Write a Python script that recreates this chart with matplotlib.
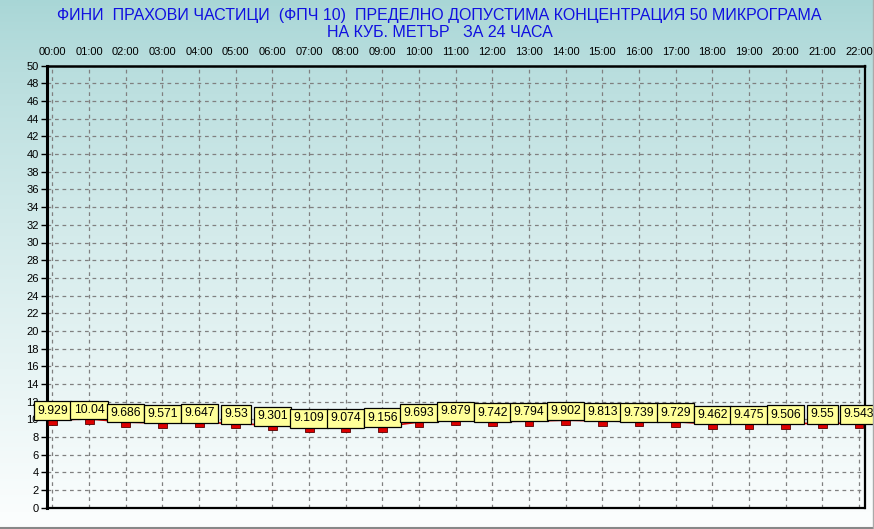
import numpy as np
import matplotlib
matplotlib.use("Agg")
import matplotlib.pyplot as plt
from matplotlib.lines import Line2D

hours = ["00:00", "01:00", "02:00", "03:00", "04:00", "05:00", "06:00", "07:00",
         "08:00", "09:00", "10:00", "11:00", "12:00", "13:00", "14:00", "15:00",
         "16:00", "17:00", "18:00", "19:00", "20:00", "21:00", "22:00"]
values = [9.929, 10.04, 9.686, 9.571, 9.647, 9.53, 9.301, 9.109, 9.074, 9.156,
          9.693, 9.879, 9.742, 9.794, 9.902, 9.813, 9.739, 9.729, 9.462, 9.475,
          9.506, 9.55, 9.543]
labels = ["9.929", "10.04", "9.686", "9.571", "9.647", "9.53", "9.301", "9.109",
          "9.074", "9.156", "9.693", "9.879", "9.742", "9.794", "9.902", "9.813",
          "9.739", "9.729", "9.462", "9.475", "9.506", "9.55", "9.543"]
title = "ФИНИ  ПРАХОВИ ЧАСТИЦИ  (ФПЧ 10)  ПРЕДЕЛНО ДОПУСТИМА КОНЦЕНТРАЦИЯ 50 МИКРОГРАМА\nНА КУБ. МЕТЪР   ЗА 24 ЧАСА"

plt.rcParams['font.family'] = ['Liberation Sans', 'DejaVu Sans']

fig = plt.figure(figsize=(8.74, 5.29), dpi=100)

# background gradient
bg = fig.add_axes([0, 0, 1, 1], zorder=-10)
top = np.array([168, 214, 214]) / 255.0
bot = np.array([252, 254, 254]) / 255.0
t = np.linspace(0, 1, 256)[:, None] ** 0.8
grad = (top[None, :] * (1 - t) + bot[None, :] * t)
grad = np.repeat(grad[:, None, :], 2, axis=1)
bg.imshow(grad, aspect='auto', extent=[0, 1, 0, 1], origin='upper')
bg.set_xlim(0, 1); bg.set_ylim(0, 1)
bg.axis('off')
# gray frame lines at bottom/right
fig.add_artist(Line2D([0, 1], [1.5/529, 1.5/529], color='#888888', lw=1.5, transform=fig.transFigure))
fig.add_artist(Line2D([872.5/874, 872.5/874], [0, 1], color='#aaaaaa', lw=1.0, transform=fig.transFigure))

ax = fig.add_axes([47/874, 1 - 507.7/529, (864.5 - 47)/874, (507.7 - 65.7)/529])
ax.set_facecolor('none')
x = np.arange(len(values))
ax.set_xlim(-0.15, 22.15)
ax.set_ylim(0, 50)

ax.set_yticks(np.arange(0, 51, 2))
ax.set_xticks(x)
ax.set_xticklabels(hours)
ax.xaxis.tick_top()
ax.tick_params(axis='x', length=0, labelsize=8, pad=6)
ax.tick_params(axis='y', length=4, width=1, labelsize=8, pad=2, direction='out')

ax.grid(True, color='#808080', lw=0.9, linestyle=(0, (3, 3)))
ax.set_axisbelow(True)

ax.spines['left'].set_linewidth(2.2)
ax.spines['right'].set_linewidth(1.6)
ax.spines['top'].set_linewidth(1.8)
ax.spines['top'].set_linestyle((0, (3, 1)))
ax.spines['bottom'].set_linewidth(1.6)
ax.spines['bottom'].set_linestyle((0, (2, 1)))

ax.plot(x, values, color='#dd0000', lw=1.2, zorder=3)
ax.bar(x, [-0.55] * len(values), bottom=values, width=0.24, color='#dd0000',
       edgecolor='#550000', lw=0.6, zorder=4)

for xi, v, lab in zip(x, values, labels):
    ax.annotate(lab, (xi, v), xytext=(0, 2.2), textcoords='offset points',
                ha='center', va='bottom', fontsize=8.7, zorder=6,
                bbox=dict(boxstyle='square,pad=0.28', fc='#ffff99', ec='black', lw=0.9))

fig.text(0.503, 1 - 24/529, title, ha='center', va='center', color='#1010e0',
         fontsize=11.5, family=['Liberation Sans Narrow', 'Liberation Sans', 'DejaVu Sans'],
         linespacing=1.15)

fig.savefig('out.png', dpi=100)
